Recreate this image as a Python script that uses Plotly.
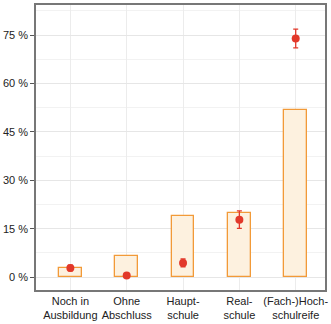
import plotly.graph_objects as go

categories = ["Noch in<br>Ausbildung", "Ohne<br>Abschluss", "Haupt-<br>schule", "Real-<br>schule", "(Fach-)Hoch-<br>schulreife"]
bar_values = [2.7, 6.6, 18.8, 19.9, 51.9]
point_values = [2.8, 0.5, 4.4, 17.8, 73.9]
point_errors = [0.9, 0.3, 1.2, 2.7, 2.9]
y_ticks = [0, 15, 30, 45, 60, 75]
y_tick_labels = ["0 %", "15 %", "30 %", "45 %", "60 %", "75 %"]

x = list(range(len(categories)))

fig = go.Figure()
fig.add_trace(go.Bar(
    x=x, y=bar_values, width=0.4,
    marker=dict(color="#fdf1df", line=dict(color="#f29a38", width=1.3)),
    showlegend=False,
))
fig.add_trace(go.Scatter(
    x=x, y=point_values, mode="markers",
    marker=dict(color="#e2382a", size=8),
    error_y=dict(type="data", array=point_errors, color="#e2382a", thickness=1.3, width=2.5),
    showlegend=False,
))

fig.update_layout(
    width=331, height=324,
    margin=dict(l=32, r=5, t=3, b=34),
    paper_bgcolor="white", plot_bgcolor="white",
    font=dict(family="Liberation Sans, Arial, sans-serif", size=11, color="#222"),
    xaxis=dict(
        tickmode="array", tickvals=x, ticktext=categories,
        range=[-0.61, 4.52],
        showgrid=True, gridcolor="#ececec", gridwidth=1,
        showline=True, linecolor="#777", linewidth=1.5, mirror=True,
        ticks="", zeroline=False,
    ),
    yaxis=dict(
        tickmode="array", tickvals=y_ticks, ticktext=y_tick_labels,
        range=[-4, 84.3],
        showgrid=True, gridcolor="#e6e6e6", gridwidth=1,
        minor=dict(dtick=7.5, tick0=0, showgrid=True, gridcolor="#f2f2f2"),
        showline=True, linecolor="#777", linewidth=1.5, mirror=True,
        ticks="outside", ticklen=4, tickcolor="#555",
        zeroline=False,
    ),
    bargap=0,
)

fig.write_html("out.html")
